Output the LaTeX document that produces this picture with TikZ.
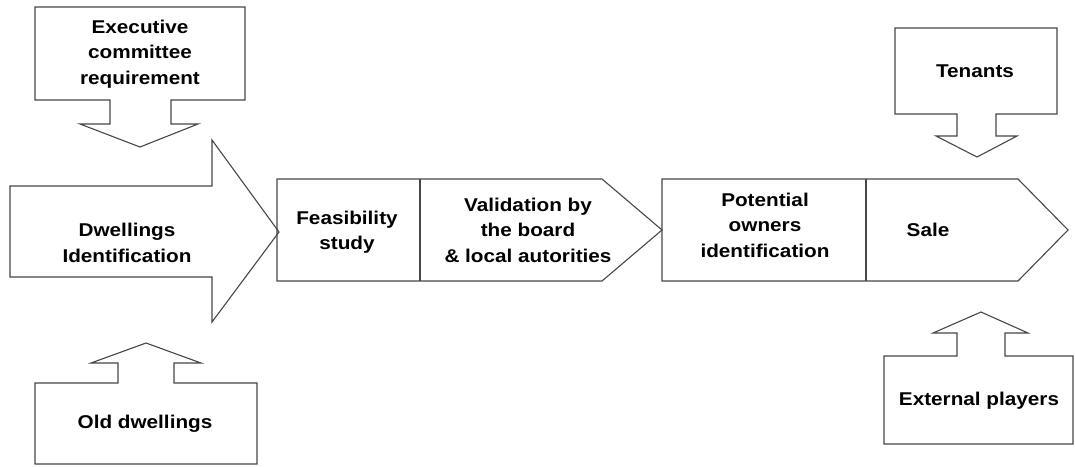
\documentclass[tikz,border=0pt]{standalone}
\usepackage{fontspec}
\setmainfont{Liberation Sans}[FakeStretch=1.12]
\begin{document}
\begin{tikzpicture}[x=1pt,y=-1pt,
  shp/.style={draw=black!72, line width=1.1pt, line join=miter},
  lbl/.style={font=\bfseries\fontsize{18.5}{25.5}\selectfont, align=center, text=black, inner sep=0pt}]
\useasboundingbox (0,0) rectangle (1075,466);
% Executive committee callout
\draw[shp] (35,7) -- (245,7) -- (245,100) -- (171,100) -- (171,124) -- (198,124) -- (140,147) -- (80,124) -- (110,124) -- (110,100) -- (35,100) -- cycle;
% big arrow
\draw[shp] (10,186) -- (212,186) -- (212,140) -- (279,232) -- (212,322) -- (212,277) -- (10,277) -- cycle;
% Old dwellings callout
\draw[shp] (35,464) -- (35,383) -- (118,383) -- (118,363) -- (91,363) -- (146,343) -- (201,363) -- (174,363) -- (174,383) -- (257,383) -- (257,464) -- cycle;
% chevron 1
\draw[shp] (277,179) -- (602,179) -- (662,230) -- (602,281) -- (277,281) -- cycle;
\draw[shp] (420,179) -- (420,281);
% chevron 2
\draw[shp] (662,179) -- (1018,179) -- (1068,230) -- (1018,281) -- (662,281) -- cycle;
\draw[shp] (866,179) -- (866,281);
% Tenants callout
\draw[shp] (895,28) -- (1057,28) -- (1057,114) -- (996,114) -- (996,136) -- (1017,136) -- (977,157) -- (936,136) -- (957,136) -- (957,114) -- (895,114) -- cycle;
% External players callout
\draw[shp] (884,444) -- (884,356) -- (957,356) -- (957,333) -- (933,333) -- (981,312) -- (1028,333) -- (1005,333) -- (1005,356) -- (1073,356) -- (1073,444) -- cycle;
% labels
\node[lbl] (exec) at (140,54) {Executive\\committee\\requirement};
\node[lbl] (dwell) at (127,243) {Dwellings\\Identification};
\node[lbl] (feas) at (347,232) {Feasibility\\study};
\node[lbl] (valid) at (528,230) {Validation by\\the board\\\& local autorities};
\node[lbl] (pot) at (765,225) {Potential\\owners\\identification};
\node[lbl] (sale) at (928,230) {Sale};
\node[lbl] (ten) at (975,71) {Tenants};
\node[lbl] (old) at (145,424) {Old dwellings};
\node[lbl] (ext) at (979,401) {External players};
\end{tikzpicture}
\end{document}
